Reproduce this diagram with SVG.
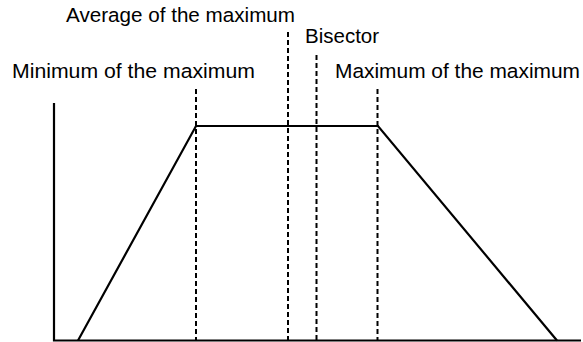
<svg xmlns="http://www.w3.org/2000/svg" width="583" height="342" viewBox="0 0 583 342">
<style>
.lbl{font-family:"Liberation Sans",Arial,sans-serif;font-size:20.5px;fill:#000}
.solid{stroke:#000;stroke-width:2.2;fill:none}
.dash{stroke:#000;stroke-width:2;stroke-dasharray:5,3;fill:none}
</style>
<rect width="583" height="342" fill="#fff"/>
<g id="axes">
<path class="solid" d="M54,103 V340.5 H581"/>
</g>
<g id="curve">
<path class="solid" d="M78,340.5 L196,126 H378 L557,340.5" stroke-linejoin="miter"/>
</g>
<g id="connectors">
<line class="dash" x1="196" y1="89" x2="196" y2="340"/>
<line class="dash" x1="288" y1="32" x2="288" y2="340"/>
<line class="dash" x1="316.5" y1="55" x2="316.5" y2="340"/>
<line class="dash" x1="377.5" y1="89" x2="377.5" y2="340"/>
</g>
<g id="labels">
<text class="lbl" x="66" y="22" textLength="229" lengthAdjust="spacingAndGlyphs">Average of the maximum</text>
<text class="lbl" x="305" y="43">Bisector</text>
<text class="lbl" x="12" y="78" textLength="243" lengthAdjust="spacingAndGlyphs">Minimum of the maximum</text>
<text class="lbl" x="335" y="78" textLength="245" lengthAdjust="spacingAndGlyphs">Maximum of the maximum</text>
</g>
</svg>
